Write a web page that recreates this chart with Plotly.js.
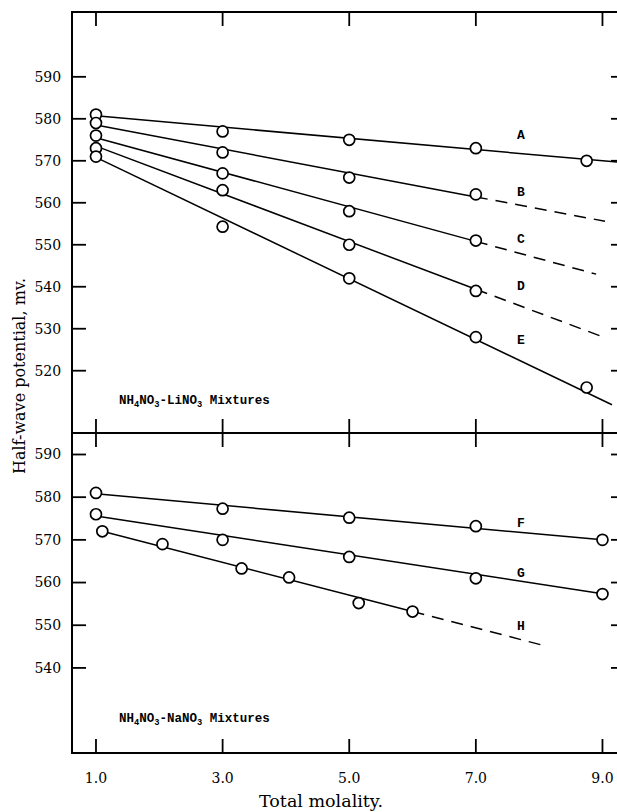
<!DOCTYPE html>
<html>
<head>
<meta charset="utf-8">
<script src="https://cdn.plot.ly/plotly-3.0.1.min.js"></script>
<style>
html,body{margin:0;padding:0;overflow:hidden;background:#fff;}
#chart{width:624px;height:812px;}
</style>
</head>
<body>
<div id="chart"></div>
<script>
// ---- data ----
// Upper panel: NH4NO3-LiNO3 mixtures (points)
const A_x = [1, 3, 5, 7, 8.75];
const A_y = [581, 577, 575, 573, 570];
const B_x = [1, 3, 5, 7];
const B_y = [579, 572, 566, 562];
const C_x = [1, 3, 5, 7];
const C_y = [576, 567, 558, 551];
const D_x = [1, 3, 5, 7];
const D_y = [573, 563, 550, 539];
const E_x = [1, 3, 5, 7, 8.75];
const E_y = [571, 554.3, 542, 528, 516];
// Lower panel: NH4NO3-NaNO3 mixtures (points)
const F_x = [1, 3, 5, 7, 9];
const F_y = [581, 577.3, 575.2, 573.2, 570];
const G_x = [1, 3, 5, 7, 9];
const G_y = [576, 570, 566, 561, 557.3];
const H_x = [1.1, 2.05, 3.3, 4.05, 5.15, 6.0];
const H_y = [572, 569, 563.3, 561.2, 555.2, 553.2];

// Fitted lines: solid part and dashed extrapolation
const A_fit_x = [1, 9.3],  A_fit_y = [580.7, 569.6];
const B_fit_x = [1, 7],    B_fit_y = [578.5, 561.4];
const B_ext_x = [7, 9.04], B_ext_y = [561.4, 555.6];
const C_fit_x = [1, 7],    C_fit_y = [575.5, 550.8];
const C_ext_x = [7, 8.9],  C_ext_y = [550.8, 543.0];
const D_fit_x = [1, 7],    D_fit_y = [573.5, 539.4];
const D_ext_x = [7, 8.98], D_ext_y = [539.4, 528.2];
const E_fit_x = [1, 9.15], E_fit_y = [570.8, 511.9];
const F_fit_x = [1, 9],    F_fit_y = [580.8, 570.0];
const G_fit_x = [1, 9],    G_fit_y = [575.6, 557.4];
const H_fit_x = [1.1, 6.0],  H_fit_y = [572, 553.2];
const H_ext_x = [6.0, 8.06], H_ext_y = [553.2, 545.3];

// Curve labels
const topLabels = ['A', 'B', 'C', 'D', 'E'];
const topLabelY = [576, 562.4, 551.3, 540, 527.3];
const botLabels = ['F', 'G', 'H'];
const botLabelY = [573.9, 562.1, 549.8];
const labelX = 7.71;

// Tick labels
const xTickVals = [1, 3, 5, 7, 9];
const xTickText = ['1.0', '3.0', '5.0', '7.0', '9.0'];
const yTicksTop = [520, 530, 540, 550, 560, 570, 580, 590];
const yTicksBot = [540, 550, 560, 570, 580, 590];

// ---- geometry ----
const W = 624, H = 812, ML = 73, MR = 0, MT = 13, MB = 60;
const xRange = [0.637, 9.34];
const yRangeTop = [505.4, 605.2];
const yRangeBot = [520.3, 594.8];
const domTop = [0.4330, 1], domBot = [0, 0.4303];
const plotW = W - ML - MR, plotH = H - MT - MB;
const kx = plotW / (xRange[1] - xRange[0]);
const kyTop = plotH * (domTop[1] - domTop[0]) / (yRangeTop[1] - yRangeTop[0]);
const kyBot = plotH * (domBot[1] - domBot[0]) / (yRangeBot[1] - yRangeBot[0]);
const TICK = 13;

// ---- build traces ----
const INK = '#000';
function lineTrace(x, y, xa, ya, dashed) {
  return {x: x, y: y, xaxis: xa, yaxis: ya, mode: 'lines', type: 'scatter',
    line: {color: INK, width: 1.5, dash: dashed ? '12px,8px' : 'solid'},
    hoverinfo: 'skip', showlegend: false};
}
function markTrace(x, y, xa, ya) {
  return {x: x, y: y, xaxis: xa, yaxis: ya, mode: 'markers', type: 'scatter',
    marker: {symbol: 'circle', size: 11, color: '#fff', line: {color: INK, width: 1.7}},
    showlegend: false};
}
// inside tick marks on all four frame edges of a panel, placed at the tick values
function tickTrace(xa, ya, yr, ky, yvals) {
  const xs = [], ys = [];
  const dy = TICK / ky, dx = TICK / kx;
  xTickVals.forEach(v => {
    xs.push(v, v, null, v, v, null);
    ys.push(yr[0], yr[0] + dy, null, yr[1], yr[1] - dy, null);
  });
  yvals.forEach(v => {
    xs.push(xRange[0], xRange[0] + dx, null, xRange[1], xRange[1] - dx, null);
    ys.push(v, v, null, v, v, null);
  });
  return {x: xs, y: ys, xaxis: xa, yaxis: ya, mode: 'lines', type: 'scatter',
    line: {color: INK, width: 1.8}, connectgaps: false, cliponaxis: false,
    hoverinfo: 'skip', showlegend: false};
}
const traces = [
  tickTrace('x2', 'y2', yRangeTop, kyTop, yTicksTop),
  tickTrace('x', 'y', yRangeBot, kyBot, yTicksBot),
  lineTrace(A_fit_x, A_fit_y, 'x2', 'y2', false),
  lineTrace(B_fit_x, B_fit_y, 'x2', 'y2', false),
  lineTrace(B_ext_x, B_ext_y, 'x2', 'y2', true),
  lineTrace(C_fit_x, C_fit_y, 'x2', 'y2', false),
  lineTrace(C_ext_x, C_ext_y, 'x2', 'y2', true),
  lineTrace(D_fit_x, D_fit_y, 'x2', 'y2', false),
  lineTrace(D_ext_x, D_ext_y, 'x2', 'y2', true),
  lineTrace(E_fit_x, E_fit_y, 'x2', 'y2', false),
  lineTrace(F_fit_x, F_fit_y, 'x', 'y', false),
  lineTrace(G_fit_x, G_fit_y, 'x', 'y', false),
  lineTrace(H_fit_x, H_fit_y, 'x', 'y', false),
  lineTrace(H_ext_x, H_ext_y, 'x', 'y', true),
  markTrace(A_x, A_y, 'x2', 'y2'),
  markTrace(B_x, B_y, 'x2', 'y2'),
  markTrace(C_x, C_y, 'x2', 'y2'),
  markTrace(D_x, D_y, 'x2', 'y2'),
  markTrace(E_x, E_y, 'x2', 'y2'),
  markTrace(F_x, F_y, 'x', 'y'),
  markTrace(G_x, G_y, 'x', 'y'),
  markTrace(H_x, H_y, 'x', 'y')
];

const serif = {family: 'DejaVu Serif', size: 14, color: INK};
const monoFam = 'Liberation Mono, DejaVu Sans Mono, monospace';
const mono = {family: monoFam, size: 13, color: INK, weight: 'bold'};

const annotations = [];
topLabels.forEach((t, i) => annotations.push({x: labelX, y: topLabelY[i], xref: 'x2', yref: 'y2',
  text: t, showarrow: false, font: mono, xanchor: 'center', yanchor: 'middle'}));
botLabels.forEach((t, i) => annotations.push({x: labelX, y: botLabelY[i], xref: 'x', yref: 'y',
  text: t, showarrow: false, font: mono, xanchor: 'center', yanchor: 'middle'}));
annotations.push({x: 0.08, y: 512.5, xref: 'paper', yref: 'y2', xanchor: 'left', yanchor: 'middle',
  text: 'NH<sub>4</sub>NO<sub>3</sub>-LiNO<sub>3</sub> Mixtures', showarrow: false,
  font: {family: monoFam, size: 12.5, color: INK, weight: 'bold'}});
annotations.push({x: 0.08, y: 527.75, xref: 'paper', yref: 'y', xanchor: 'left', yanchor: 'middle',
  text: 'NH<sub>4</sub>NO<sub>3</sub>-NaNO<sub>3</sub> Mixtures', showarrow: false,
  font: {family: monoFam, size: 12.5, color: INK, weight: 'bold'}});
annotations.push({x: -0.0962, y: 0.5088, xref: 'paper', yref: 'paper', xanchor: 'center', yanchor: 'middle',
  text: 'Half-wave potential, mv.', textangle: -90, showarrow: false,
  font: {family: 'DejaVu Serif', size: 16, color: INK}});
annotations.push({x: 0.450, y: -0.0663, xref: 'paper', yref: 'paper', xanchor: 'center', yanchor: 'middle',
  text: 'Total molality.', showarrow: false,
  font: {family: 'DejaVu Serif', size: 17.5, color: INK}});

const xBase = {range: xRange, tickmode: 'array', tickvals: xTickVals, ticktext: xTickText,
  ticks: '', showline: true, linewidth: 2, linecolor: INK, mirror: true,
  showgrid: false, zeroline: false, tickfont: serif, ticklabelstandoff: 12};
const yBase = {tickmode: 'array', ticks: '',
  showline: true, linewidth: 2, linecolor: INK, mirror: true,
  showgrid: false, zeroline: false, tickfont: serif, ticklabelstandoff: 7};

const layout = {
  width: W, height: H,
  margin: {l: ML, r: MR, t: MT, b: MB},
  paper_bgcolor: '#fff', plot_bgcolor: '#fff',
  showlegend: false,
  xaxis: Object.assign({}, xBase, {anchor: 'y', domain: [0, 1]}),
  xaxis2: Object.assign({}, xBase, {anchor: 'y2', domain: [0, 1], showticklabels: false}),
  yaxis: Object.assign({}, yBase, {anchor: 'x', domain: domBot, range: yRangeBot, tickvals: yTicksBot}),
  yaxis2: Object.assign({}, yBase, {anchor: 'x2', domain: domTop, range: yRangeTop, tickvals: yTicksTop}),
  annotations: annotations
};

Plotly.newPlot('chart', traces, layout, {staticPlot: true, displayModeBar: false});
</script>
</body>
</html>
